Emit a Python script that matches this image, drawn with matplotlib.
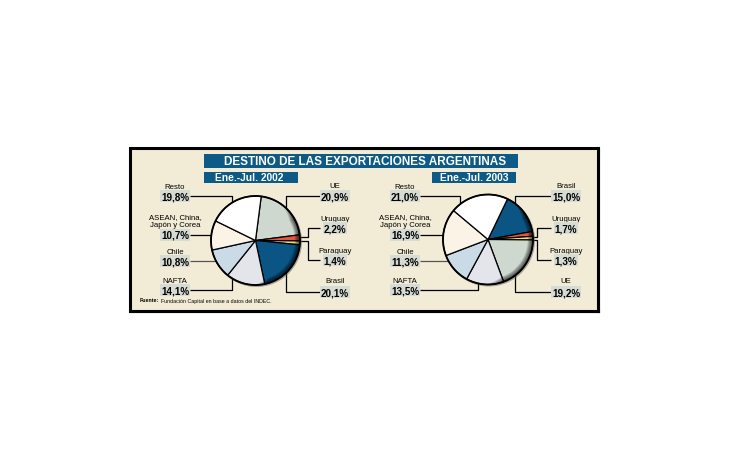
import matplotlib
matplotlib.use("Agg")
import matplotlib.pyplot as plt
from matplotlib.patches import Rectangle, Wedge, Circle

plt.rcParams['font.family'] = ['Liberation Sans', 'DejaVu Sans']

# ---------------- data ----------------
title = "DESTINO DE LAS EXPORTACIONES ARGENTINAS"
period_2002 = "Ene.-Jul. 2002"
period_2003 = "Ene.-Jul. 2003"
source_bold = "Fuente:"
source_text = "Fundación Capital en base a datos del INDEC."

# 2002, clockwise order starting at UE
labels_2002 = ["UE", "Uruguay", "Paraguay", "Brasil", "NAFTA", "Chile",
               "ASEAN, China,\nJapón y Corea", "Resto"]
values_2002 = [20.9, 2.2, 1.4, 20.1, 14.1, 10.8, 10.7, 19.8]

# 2003, clockwise order starting at Brasil
labels_2003 = ["Brasil", "Uruguay", "Paraguay", "UE", "NAFTA", "Chile",
               "ASEAN, China,\nJapón y Corea", "Resto"]
values_2003 = [15.0, 1.7, 1.3, 19.2, 13.5, 11.3, 16.9, 21.0]

colors_region = {
    "UE": "#CFD8CE", "Uruguay": "#E2573F", "Paraguay": "#F0E07A",
    "Brasil": "#0B5585", "NAFTA": "#E4E4EB", "Chile": "#CADAE7",
    "ASEAN, China,\nJapón y Corea": "#FBF3E6", "Resto": "#FFFFFF",
}

# ---------------- figure ----------------
W, H = 730, 460
fig = plt.figure(figsize=(W / 100, H / 100), dpi=100)
ax = fig.add_axes([0, 0, 1, 1])
ax.set_xlim(0, W)
ax.set_ylim(0, H)
ax.axis('off')


def Y(y):
    return H - y


BG = "#F2ECD6"
DARK = "#0E5A86"
PCT_BG = "#D6DBD4"

# panel
ax.add_patch(Rectangle((130, Y(312)), 468, 163, fc=BG, ec='black', lw=2.2, zorder=0))
ax.plot([598.5, 598.5], [Y(150), Y(313)], color='black', lw=1.5, zorder=1)
ax.plot([131, 598.5], [Y(313), Y(313)], color='black', lw=1.5, zorder=1)

# title boxes
ax.add_patch(Rectangle((204, Y(169)), 314, 14, fc=DARK, ec='none', zorder=1))
ax.text(365, Y(162.2), title, color='white', fontsize=8.5, fontweight='bold',
        ha='center', va='center', zorder=2)
ax.add_patch(Rectangle((204, Y(184)), 94, 11.5, fc=DARK, ec='none', zorder=1))
ax.text(249, Y(178.3), period_2002, color='white', fontsize=7.4, fontweight='bold',
        ha='center', va='center', zorder=2)
ax.add_patch(Rectangle((432, Y(184)), 84, 11.5, fc=DARK, ec='none', zorder=1))
ax.text(474, Y(178.3), period_2003, color='white', fontsize=7.4, fontweight='bold',
        ha='center', va='center', zorder=2)

# source
t1 = ax.text(140, Y(301), source_bold, fontsize=3.8, fontweight='bold',
             ha='left', va='center', zorder=2)
fig.canvas.draw()
bb = t1.get_window_extent()
ax.text(bb.x1 + 1.5, Y(301), source_text, fontsize=3.8, ha='left', va='center', zorder=2)


def draw_pie(values, labels, cx, cy, r, start):
    cols = [colors_region[l] for l in labels]
    # soft shadow
    ax.add_patch(Circle((cx + 1.0, Y(cy) - 1.0), r + 1.0, fc='#5a5a5a', ec='none',
                        alpha=0.5, zorder=3))
    wedges, _ = ax.pie(values, colors=cols, startangle=start, counterclock=False,
                       center=(cx, Y(cy)), radius=r, frame=True,
                       wedgeprops=dict(edgecolor='black', linewidth=0.9))
    for w in wedges:
        w.set_zorder(4)
    # rim shading (3D look) on right / lower-right
    for k in range(1, 13):
        ax.add_patch(Wedge((cx, Y(cy)), r, -95 + k * 2, 55 - k * 2, width=k * 0.45,
                           fc='black', ec='none', alpha=0.08, zorder=5))
    ax.add_patch(Circle((cx, Y(cy)), r, fc='none', ec='black', lw=1.3, zorder=6))


def pct(v):
    return f"{v:.1f}".replace('.', ',') + '%'


def label(x, y_name, y_pct, name, value):
    ax.text(x, Y(y_name), name, fontsize=5.6, ha='center', va='center',
            linespacing=1.15, zorder=7)
    ax.text(x, Y(y_pct), pct(value), fontsize=7.1, fontweight='bold', ha='center',
            va='center', zorder=7,
            bbox=dict(boxstyle='square,pad=0.12', fc=PCT_BG, ec='none'))


def line(pts, color='black'):
    xs = [p[0] for p in pts]
    ys = [Y(p[1]) for p in pts]
    ax.plot(xs, ys, color=color, lw=0.9, zorder=2, solid_capstyle='butt')


# ---------------- 2002 ----------------
cx1, cy1, r1 = 255.5, 241.5, 44.5
draw_pie(values_2002, labels_2002, cx1, cy1, r1, 82.6)
v1 = dict(zip(labels_2002, values_2002))
LX1, RX1 = 175, 335
label(LX1, 187.5, 197, "Resto", v1["Resto"])
label(LX1, 221.5, 236, "ASEAN, China,\nJapón y Corea", v1["ASEAN, China,\nJapón y Corea"])
label(LX1, 252.5, 262.3, "Chile", v1["Chile"])
label(LX1, 281.5, 291.3, "NAFTA", v1["NAFTA"])
label(RX1, 186.5, 197, "UE", v1["UE"])
label(RX1, 219.5, 229.3, "Uruguay", v1["Uruguay"])
label(RX1, 251.5, 261, "Paraguay", v1["Paraguay"])
label(RX1, 281.5, 293.3, "Brasil", v1["Brasil"])

line([(190, 197), (231.7, 197), (231.7, 230)])
line([(190, 236), (230, 236)])
line([(190, 262.3), (230, 262.3)], color='#555555')
line([(190, 291.3), (231.7, 291.3), (231.7, 260)])
line([(320, 197), (286, 197), (286, 230)])
line([(320, 229.3), (308, 229.3), (308, 238.3), (280, 238.3)])
line([(280, 241.5), (308, 241.5), (308, 261), (320, 261)])
line([(286, 260), (286, 293.3), (320, 293.3)])

# ---------------- 2003 ----------------
cx2, cy2, r2 = 488, 240.5, 45
draw_pie(values_2003, labels_2003, cx2, cy2, r2, 64.3)
v2 = dict(zip(labels_2003, values_2003))
LX2, RX2 = 405, 566
label(LX2, 187.5, 197, "Resto", v2["Resto"])
label(LX2, 221.5, 236, "ASEAN, China,\nJapón y Corea", v2["ASEAN, China,\nJapón y Corea"])
label(LX2, 252.5, 262.3, "Chile", v2["Chile"])
label(LX2, 281.5, 291.3, "NAFTA", v2["NAFTA"])
label(RX2, 186.5, 197, "Brasil", v2["Brasil"])
label(RX2, 219.5, 229.3, "Uruguay", v2["Uruguay"])
label(RX2, 251.5, 261, "Paraguay", v2["Paraguay"])
label(RX2, 281.5, 293.3, "UE", v2["UE"])

line([(420, 197), (460, 197), (460, 230)])
line([(420, 236), (465, 236)])
line([(420, 262.3), (465, 262.3)], color='#555555')
line([(420, 291.3), (478, 291.3), (478, 260)])
line([(551, 197), (515, 197), (515, 230)])
line([(551, 229.3), (537.3, 229.3), (537.3, 238.3), (510, 238.3)])
line([(510, 241), (537.3, 241), (537.3, 261), (551, 261)])
line([(515, 260), (515, 293.3), (551, 293.3)])

ax.set_xlim(0, W)
ax.set_ylim(0, H)
ax.set_aspect('auto')
ax.axis('off')
fig.savefig("out.png", dpi=100, facecolor='white')
